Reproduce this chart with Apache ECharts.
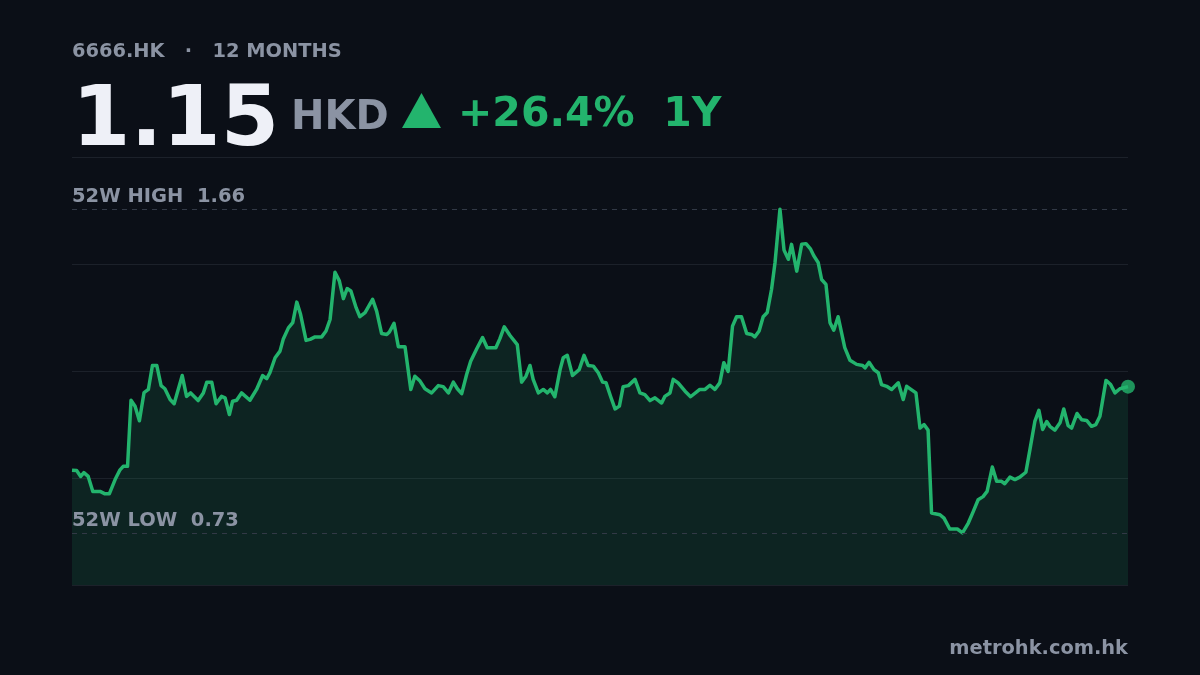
<!DOCTYPE html>
<html>
<head>
<meta charset="utf-8">
<title>6666.HK 12 months</title>
<script src="https://cdn.jsdelivr.net/npm/echarts@6/dist/echarts.min.js"></script>
<style>
  html, body { margin: 0; padding: 0; background: #0b0f17; }
  #chart { width: 1200px; height: 675px; }
</style>
</head>
<body>
<div id="chart"></div>
<script>
// header / footer text
var ticker = '6666.HK';
var periodLabel = '12 MONTHS';
var lastPrice = '1.15';
var currency = 'HKD';
var changeLabel = '+26.4%  1Y';
var siteLabel = 'metrohk.com.hk';

// 52 week range
var high52 = 1.66;
var low52 = 0.73;

// price path: day offset in the 12 months, close (HKD)
var days = [
  0, 1.6, 3.0, 4.1, 5.6, 7.2, 9.7, 11.4, 12.9, 14.9, 16.6, 17.7, 19.2, 20.4, 21.8, 23.3, 24.9, 26.4, 27.8, 29.3,
  30.8, 32.1, 33.9, 35.3, 38.1, 39.6, 41.0, 43.6, 45.4, 46.6, 48.3, 49.8, 51.7, 52.9, 54.4, 55.5, 56.9, 58.6, 61.5, 63.8,
  65.9, 67.3, 68.4, 70.2, 71.9, 73.0, 74.8, 76.3, 77.7, 79.0, 80.9, 82.3, 84.0, 86.3, 87.8, 89.2, 90.9, 92.4, 93.8, 95.1,
  96.4, 98.2, 99.5, 101.3, 103.9, 105.3, 107.0, 108.8, 109.7, 111.3, 112.8, 115.1, 117.1, 118.5, 120.3, 122.0, 124.3, 126.6, 128.3, 130.1,
  131.8, 133.2, 134.7, 136.4, 137.8, 139.9, 141.9, 143.5, 146.5, 147.9, 149.4, 151.4, 153.9, 155.4, 156.9, 158.3, 159.4, 161.2, 162.9, 164.3,
  165.4, 166.9, 168.7, 169.8, 171.2, 173.0, 175.3, 177.0, 178.4, 180.2, 181.9, 183.4, 184.6, 186.2, 187.7, 189.2, 190.5, 192.3, 194.6, 196.3,
  198.0, 199.8, 201.5, 203.8, 204.9, 206.7, 207.8, 209.5, 211.9, 213.8, 217.0, 218.8, 220.5, 222.2, 223.9, 225.3, 226.8, 228.3, 229.7, 231.4,
  233.2, 234.9, 236.0, 237.5, 238.9, 240.3, 241.8, 243.0, 244.7, 246.1, 247.6, 248.7, 250.5, 252.2, 253.7, 255.3, 256.4, 257.9, 259.1, 260.6,
  262.0, 263.3, 264.8, 267.1, 268.9, 271.2, 273.3, 274.1, 275.5, 277.2, 278.7, 279.8, 281.6, 283.3, 285.6, 287.3, 288.5, 291.7, 293.1, 294.5,
  295.9, 297.1, 300.0, 301.4, 303.4, 306.0, 307.8, 309.8, 311.5, 313.2, 314.9, 316.3, 318.1, 319.6, 321.3, 322.4, 324.2, 325.9, 327.6, 329.7,
  331.1, 332.8, 334.2, 335.5, 336.9, 338.0, 339.7, 341.5, 342.8, 344.3, 345.5, 347.4, 349.0, 350.7, 352.4, 353.9, 355.3, 357.4, 359.0, 360.5,
  362.2, 365
];
var prices = [
  0.910, 0.909, 0.892, 0.903, 0.892, 0.849, 0.849, 0.842, 0.842, 0.883, 0.911, 0.921, 0.921, 1.111, 1.094, 1.052, 1.133, 1.142, 1.211, 1.211,
  1.153, 1.144, 1.113, 1.101, 1.182, 1.122, 1.132, 1.110, 1.132, 1.163, 1.163, 1.101, 1.122, 1.118, 1.070, 1.108, 1.111, 1.132, 1.111, 1.142,
  1.182, 1.173, 1.190, 1.233, 1.252, 1.286, 1.319, 1.334, 1.393, 1.358, 1.283, 1.286, 1.293, 1.293, 1.310, 1.343, 1.479, 1.454, 1.403, 1.432,
  1.425, 1.377, 1.351, 1.363, 1.401, 1.367, 1.303, 1.300, 1.307, 1.332, 1.265, 1.265, 1.142, 1.180, 1.166, 1.144, 1.132, 1.153, 1.150, 1.132,
  1.163, 1.144, 1.130, 1.185, 1.223, 1.259, 1.291, 1.262, 1.262, 1.288, 1.322, 1.297, 1.271, 1.163, 1.180, 1.211, 1.171, 1.132, 1.142, 1.132,
  1.142, 1.121, 1.199, 1.233, 1.240, 1.182, 1.199, 1.240, 1.211, 1.209, 1.190, 1.163, 1.161, 1.121, 1.086, 1.094, 1.150, 1.153, 1.171, 1.132,
  1.127, 1.110, 1.118, 1.103, 1.122, 1.132, 1.171, 1.161, 1.137, 1.121, 1.142, 1.142, 1.154, 1.142, 1.161, 1.219, 1.194, 1.324, 1.351, 1.351,
  1.303, 1.300, 1.293, 1.310, 1.351, 1.363, 1.430, 1.507, 1.660, 1.543, 1.516, 1.559, 1.482, 1.559, 1.561, 1.545, 1.526, 1.507, 1.458, 1.444,
  1.334, 1.312, 1.351, 1.262, 1.226, 1.214, 1.211, 1.204, 1.220, 1.199, 1.190, 1.156, 1.151, 1.142, 1.161, 1.113, 1.151, 1.132, 1.031, 1.041,
  1.025, 0.787, 0.782, 0.772, 0.741, 0.741, 0.730, 0.758, 0.791, 0.825, 0.834, 0.849, 0.919, 0.878, 0.878, 0.871, 0.890, 0.883, 0.890, 0.904,
  0.969, 1.050, 1.082, 1.027, 1.050, 1.036, 1.025, 1.046, 1.086, 1.038, 1.031, 1.073, 1.055, 1.053, 1.036, 1.041, 1.065, 1.168, 1.156, 1.132,
  1.144, 1.150
];

// y range: 52w range padded by ~16% each side
var yMin = 0.58;
var yMax = 1.81;

var green = '#23b46d';
var gray = '#8b93a3';
var font = 'DejaVu Sans';

var points = days.map(function (d, i) { return [d, prices[i]]; });
var lastPoint = points[points.length - 1];

var chart = echarts.init(document.getElementById('chart'));

var option = {
    backgroundColor: '#0b0f17',
    animation: false,
    grid: { left: 72, right: 72, top: 157, bottom: 90 },
    xAxis: {
        type: 'value',
        min: 0,
        max: 365,
        show: false
    },
    yAxis: [
        {
            type: 'value',
            min: yMin,
            max: yMax,
            axisLine: { show: false },
            axisTick: { show: false },
            axisLabel: { show: false },
            splitLine: { show: false }
        },
        {
            // quarter grid lines over the plot
            type: 'value',
            min: 0,
            max: 4,
            interval: 1,
            position: 'left',
            axisLine: { show: false },
            axisTick: { show: false },
            axisLabel: { show: false },
            splitLine: { show: true, lineStyle: { color: '#1c212a', width: 1 } }
        }
    ],
    series: [
        {
            type: 'line',
            data: points,
            showSymbol: false,
            symbol: 'none',
            lineStyle: { color: green, width: 3.5, join: 'round' },
            areaStyle: { color: 'rgba(35,180,109,0.18)', origin: 'start' },
            markLine: {
                silent: true,
                symbol: ['none', 'none'],
                lineStyle: { color: '#323946', type: [5, 5], width: 1 },
                label: {
                    position: 'insideStartTop',
                    color: gray,
                    fontFamily: font,
                    fontWeight: 'bold',
                    fontSize: 19.5,
                    distance: [0, 2]
                },
                data: [
                    { yAxis: high52, label: { formatter: '52W HIGH  ' + high52.toFixed(2) } },
                    { yAxis: low52, label: { formatter: '52W LOW  ' + low52.toFixed(2) } }
                ]
            }
        },
        {
            type: 'scatter',
            data: [lastPoint],
            symbolSize: 14,
            itemStyle: { color: green },
            silent: true
        }
    ],
    graphic: [
        {
            type: 'text', left: 72, top: 42,
            style: { text: ticker + '   \u00b7   ' + periodLabel, fill: gray, font: 'bold 19.4px "DejaVu Sans"' }
        },
        {
            type: 'text', x: 72, y: 123,
            style: { text: lastPrice, fill: '#eef0f7', font: 'bold 84px "DejaVu Sans"', verticalAlign: 'middle' }
        },
        {
            type: 'text', x: 291, y: 119,
            style: { text: currency, fill: gray, font: 'bold 40px "DejaVu Sans"', verticalAlign: 'middle' }
        },
        {
            type: 'polygon', x: 402, y: 93,
            shape: { points: [[0, 35], [19.5, 0], [39, 35]] },
            style: { fill: green }
        },
        {
            type: 'text', x: 458, y: 115,
            style: { text: changeLabel, fill: green, font: 'bold 41px "DejaVu Sans"', verticalAlign: 'middle' }
        },
        {
            type: 'line',
            shape: { x1: 72, y1: 157.5, x2: 1128, y2: 157.5 },
            style: { stroke: '#1c212a', lineWidth: 1 }
        },
        {
            type: 'text', right: 72, top: 639,
            style: { text: siteLabel, fill: gray, font: 'bold 19.4px "DejaVu Sans"' }
        }
    ]
};

chart.setOption(option);
</script>
</body>
</html>
